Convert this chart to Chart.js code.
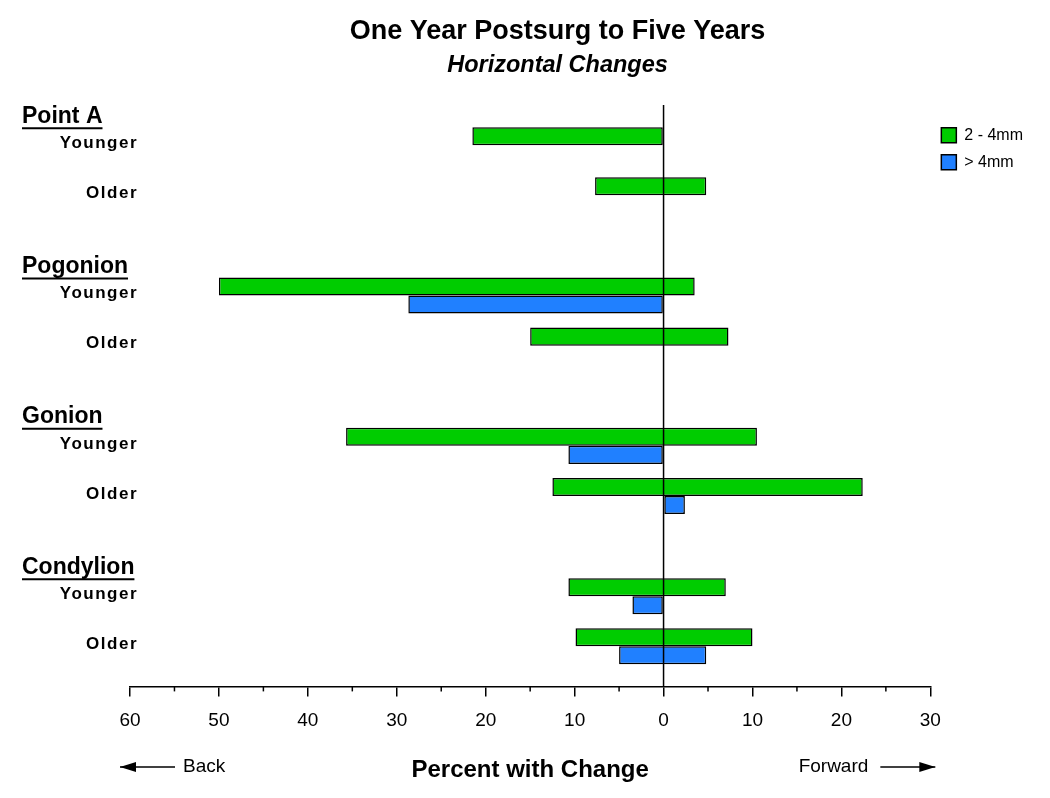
<!DOCTYPE html>
<html>
<head>
<meta charset="utf-8">
<script src="https://cdn.jsdelivr.net/npm/chart.js@4.4.1/dist/chart.umd.min.js"></script>
<style>
  html, body { margin: 0; padding: 0; background: #fff; }
  #wrap { width: 1050px; height: 798px; }
</style>
</head>
<body>
<div id="wrap"><canvas id="myChart"></canvas></div>
<script>
var groups = ['Point A', 'Pogonion', 'Gonion', 'Condylion'];
var ages = ['Younger', 'Older'];
var seriesNames = ['2 - 4mm', '> 4mm'];

// one entry per row: Point A Younger, Point A Older, Pogonion Younger, ...
var greenBack = [-21.5, -7.7, -50, -15, -35.7, -12.5, -10.7, -9.9];
var greenFwd  = [0, 4.8, 3.5, 7.3, 10.5, 22.4, 7, 10];
var blueBack  = [null, null, -28.7, null, -10.7, 0, -3.5, -5];
var blueFwd   = [null, null, 0, null, 0, 2.4, 0, 4.8];

var xMin = -60, xMax = 30, xStep = 10;

var FONT = "'Liberation Sans', Arial, sans-serif";

// row index -> position on y axis (blank row between groups)
function rowPos(i) {
    return Math.floor(i / 2) * 3 + (i % 2);
}

function makeData(back, fwd) {
    var out = [];
    for (var i = 0; i < back.length; i++) {
        if (back[i] === null) continue;
        out.push({x: [back[i], fwd[i]], y: rowPos(i)});
    }
    return out;
}

var extras = {
    id: 'extras',
    afterDatasetsDraw: function(chart) {
        var ctx = chart.ctx;
        var xs = chart.scales.x, ys = chart.scales.y, area = chart.chartArea;
        ctx.save();
        ctx.strokeStyle = '#000';
        ctx.lineWidth = 1.5;

        // zero line over the bars
        var x0 = xs.getPixelForValue(0);
        ctx.beginPath();
        ctx.moveTo(x0, area.top);
        ctx.lineTo(x0, area.bottom);
        ctx.stroke();

        // minor ticks
        for (var v = xMin + xStep / 2; v < xMax; v += xStep) {
            var px = xs.getPixelForValue(v);
            ctx.beginPath();
            ctx.moveTo(px, area.bottom);
            ctx.lineTo(px, area.bottom + 5);
            ctx.stroke();
        }

        // group headers and row labels
        ctx.fillStyle = '#000';
        for (var g = 0; g < groups.length; g++) {
            var yTop = ys.getPixelForValue(g * 3);
            ctx.letterSpacing = '0px';
            ctx.font = 'bold 23px ' + FONT;
            ctx.textAlign = 'left';
            ctx.textBaseline = 'middle';
            var hx = area.left - 108, hy = yTop - 29;
            ctx.fillText(groups[g], hx, hy);
            var w = ctx.measureText(groups[g]).width;
            ctx.lineWidth = 2;
            ctx.beginPath();
            ctx.moveTo(hx, hy + 12);
            ctx.lineTo(hx + w, hy + 12);
            ctx.stroke();

            ctx.letterSpacing = '1.5px';
            ctx.font = 'bold 17px ' + FONT;
            ctx.textAlign = 'right';
            for (var a = 0; a < ages.length; a++) {
                ctx.fillText(ages[a], area.left + 8, ys.getPixelForValue(g * 3 + a) - 2);
            }
        }

        // back / forward arrows
        ctx.letterSpacing = '0px';
        ctx.font = '19px ' + FONT;
        ctx.lineWidth = 1.5;
        var ay = chart.height - 31;
        ctx.textAlign = 'left';
        ctx.fillText('Back', xs.left + 53, ay);
        ctx.beginPath();
        ctx.moveTo(xs.left + 45, ay);
        ctx.lineTo(xs.left - 10, ay);
        ctx.stroke();
        ctx.beginPath();
        ctx.moveTo(xs.left - 10, ay);
        ctx.lineTo(xs.left + 6, ay - 5);
        ctx.lineTo(xs.left + 6, ay + 5);
        ctx.closePath();
        ctx.fill();

        ctx.textAlign = 'right';
        ctx.fillText('Forward', xs.right - 62, ay);
        ctx.beginPath();
        ctx.moveTo(xs.right - 50, ay);
        ctx.lineTo(xs.right + 5, ay);
        ctx.stroke();
        ctx.beginPath();
        ctx.moveTo(xs.right + 5, ay);
        ctx.lineTo(xs.right - 11, ay - 5);
        ctx.lineTo(xs.right - 11, ay + 5);
        ctx.closePath();
        ctx.fill();

        ctx.restore();
    }
};

const data = {
    datasets: [{
        label: seriesNames[0],
        data: makeData(greenBack, greenFwd),
        backgroundColor: '#00cc00',
        borderColor: '#000',
        borderWidth: 1.5,
        borderSkipped: false
    }, {
        label: seriesNames[1],
        data: makeData(blueBack, blueFwd),
        backgroundColor: '#2080ff',
        borderColor: '#000',
        borderWidth: 1.5,
        borderSkipped: false
    }]
};

const config = {
    type: 'bar',
    data: data,
    plugins: [extras],
    options: {
        indexAxis: 'y',
        responsive: true,
        maintainAspectRatio: false,
        animation: false,
        categoryPercentage: 0.72,
        barPercentage: 1,
        layout: {
            padding: {left: 82, right: 17, top: 0, bottom: 8}
        },
        scales: {
            y: {
                type: 'linear',
                reverse: true,
                offset: false,
                min: -0.8,
                max: 10.8,
                grid: {display: false},
                border: {display: false},
                ticks: {display: false},
                afterBuildTicks: function(scale) {
                    var t = [];
                    for (var i = 0; i <= 10; i++) t.push({value: i});
                    scale.ticks = t;
                },
                afterFit: function(scale) { scale.width = 48; }
            },
            x: {
                type: 'linear',
                min: xMin,
                max: xMax,
                border: {display: true, color: '#000', width: 1.5},
                grid: {drawOnChartArea: false, drawTicks: true, tickLength: 10, color: '#000', lineWidth: 1.5},
                ticks: {
                    stepSize: xStep,
                    padding: 13,
                    color: '#000',
                    font: {family: FONT, size: 19},
                    callback: function(v) { return Math.abs(v); }
                },
                title: {
                    display: true,
                    text: 'Percent with Change',
                    color: '#000',
                    font: {family: FONT, size: 24, weight: 'bold'},
                    padding: {top: 11, bottom: 5}
                }
            }
        },
        plugins: {
            title: {
                display: true,
                text: 'One Year Postsurg to Five Years',
                color: '#000',
                font: {family: FONT, size: 27, weight: 'bold'},
                padding: {top: 15, bottom: 2}
            },
            subtitle: {
                display: true,
                text: 'Horizontal Changes',
                color: '#000',
                font: {family: FONT, size: 23.5, weight: 'bold', style: 'italic'},
                padding: {top: 2.5, bottom: 25}
            },
            legend: {
                position: 'right',
                align: 'start',
                fullSize: false,
                title: {display: true, text: ' ', font: {size: 1}, padding: 5},
                labels: {
                    boxWidth: 15,
                    boxHeight: 15,
                    padding: 11,
                    color: '#000',
                    font: {family: FONT, size: 16}
                }
            },
            tooltip: {enabled: false}
        }
    }
};

const myChart = new Chart(document.getElementById('myChart'), config);
</script>
</body>
</html>
